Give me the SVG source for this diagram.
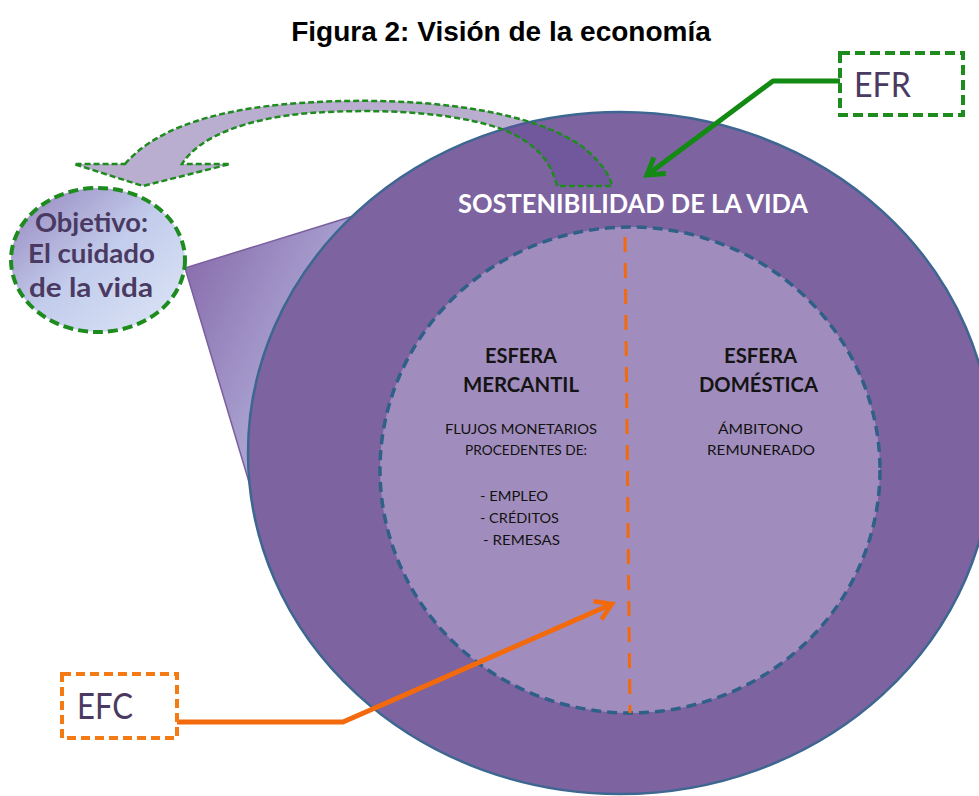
<svg xmlns="http://www.w3.org/2000/svg" width="979" height="796" viewBox="0 0 979 796">
<defs>
<style>
.title{font-family:"Liberation Sans",Arial,sans-serif;font-weight:bold;font-size:28px;fill:#000}
.lbl{font-family:Lato,"Open Sans",sans-serif;fill:#4a3a62}
.head{font-family:Lato,"Open Sans",sans-serif;font-weight:bold;font-size:20px;fill:#141414}
.small{font-family:Lato,"Open Sans",sans-serif;font-size:13px;fill:#111}
.obj{font-family:Lato,"Open Sans",sans-serif;font-weight:bold;font-size:27px;fill:#4a3a62}
.gdash{fill:none;stroke:#1e8b1e;stroke-width:4;stroke-dasharray:10 5}
.odash{fill:#fff;stroke:#f47a14;stroke-width:4;stroke-dasharray:9 5}
</style>
<linearGradient id="beamGrad" gradientUnits="userSpaceOnUse" x1="190" y1="260" x2="330" y2="330">
<stop offset="0" stop-color="#8a6fae"/>
<stop offset="1" stop-color="#aeaad6"/>
</linearGradient>
<linearGradient id="objGrad" x1="0" y1="0" x2="1" y2="1">
<stop offset="0" stop-color="#9483bd"/>
<stop offset="0.5" stop-color="#c3cdec"/>
<stop offset="1" stop-color="#dde6f6"/>
</linearGradient>
<marker id="arrG" markerUnits="userSpaceOnUse" markerWidth="30" markerHeight="30" refX="0" refY="0" viewBox="-20 -15 25 30" orient="auto">
<path d="M-16,-10 L0,0 L-16,10" fill="none" stroke="#138a13" stroke-width="5" stroke-linejoin="miter"/>
</marker>
<marker id="arrO" markerUnits="userSpaceOnUse" markerWidth="30" markerHeight="30" refX="0" refY="0" viewBox="-20 -15 25 30" orient="auto">
<path d="M-16,-10 L0,0 L-16,10" fill="none" stroke="#f26a0c" stroke-width="4.5" stroke-linejoin="miter"/>
</marker>
</defs>
<rect width="979" height="796" fill="#fff"/>
<text class="title" x="501" y="41" text-anchor="middle">Figura 2: Visión de la economía</text>

<g id="beam">
<polygon points="185,268 360,214 420,320 252,492" fill="url(#beamGrad)" stroke="#7b5f9e" stroke-width="1.5"/>
</g>

<g id="sostenibilidad">
<ellipse cx="620" cy="453" rx="372" ry="341" fill="#7d63a0" stroke="#3d6791" stroke-width="2.5"/>
<text x="458" y="213" font-family="Lato,'Open Sans',sans-serif" font-weight="bold" font-size="27" fill="#fff" textLength="350" lengthAdjust="spacingAndGlyphs">SOSTENIBILIDAD DE LA VIDA</text>
</g>

<g id="esferas">
<ellipse cx="630" cy="470" rx="250" ry="243" fill="#a18dbd" stroke="#2f6088" stroke-width="3.5" stroke-dasharray="10 6"/>
<line x1="625" y1="237" x2="630" y2="713" stroke="#f26a0c" stroke-width="3" stroke-dasharray="15 11"/>
</g>

<g id="mercantil">
<text class="head" x="485" y="363" textLength="72" lengthAdjust="spacingAndGlyphs">ESFERA</text>
<text class="head" x="463" y="392" textLength="116" lengthAdjust="spacingAndGlyphs">MERCANTIL</text>
<text class="small" x="445" y="434" textLength="152" lengthAdjust="spacingAndGlyphs">FLUJOS MONETARIOS</text>
<text class="small" x="465" y="455" textLength="122" lengthAdjust="spacingAndGlyphs">PROCEDENTES DE:</text>
<text class="small" x="480" y="501" textLength="68" lengthAdjust="spacingAndGlyphs">- EMPLEO</text>
<text class="small" x="480" y="523" textLength="79" lengthAdjust="spacingAndGlyphs">- CRÉDITOS</text>
<text class="small" x="483" y="545" textLength="77" lengthAdjust="spacingAndGlyphs">- REMESAS</text>
</g>

<g id="domestica">
<text class="head" x="724" y="363" textLength="73" lengthAdjust="spacingAndGlyphs">ESFERA</text>
<text class="head" x="699" y="392" textLength="119" lengthAdjust="spacingAndGlyphs">DOMÉSTICA</text>
<text class="small" x="718" y="434" textLength="85" lengthAdjust="spacingAndGlyphs">ÁMBITONO</text>
<text class="small" x="707" y="455" textLength="108" lengthAdjust="spacingAndGlyphs">REMUNERADO</text>
</g>

<g id="curved-arrow">
<path d="M125,164 C150,135 200,110 300,103 C400,96 520,105 580,145 C600,160 610,175 612,186 L557,186 C552,165 540,148 515,135 C470,112 380,108 310,113 C250,118 200,135 182,164 L230,164 L143,186 L74,164 Z" fill="rgb(100,75,150)" fill-opacity="0.45" stroke="#1e8b1e" stroke-width="2.5" stroke-dasharray="6 3"/>
</g>

<g id="objetivo">
<ellipse cx="98" cy="260" rx="87" ry="72" class="gdash" style="fill:url(#objGrad)"/>
<text class="obj" x="35" y="232" textLength="113" lengthAdjust="spacingAndGlyphs">Objetivo:</text>
<text class="obj" x="28" y="263" textLength="127" lengthAdjust="spacingAndGlyphs">El cuidado</text>
<text class="obj" x="29" y="297" textLength="124" lengthAdjust="spacingAndGlyphs">de la vida</text>
</g>

<g id="connectors">
<polyline points="840,81 773,81 647,175" fill="none" stroke="#138a13" stroke-width="5" stroke-linejoin="round" marker-end="url(#arrG)"/>
<polyline points="177,722 343,722 612,604" fill="none" stroke="#f26a0c" stroke-width="5" stroke-linejoin="round" marker-end="url(#arrO)"/>
</g>

<g id="efr">
<rect x="840" y="53" width="123" height="62" fill="#fff" class="gdash"/>
<text class="lbl" x="854" y="97" font-size="35" textLength="57" lengthAdjust="spacingAndGlyphs">EFR</text>
</g>

<g id="efc">
<rect x="62" y="674" width="115" height="64" class="odash"/>
<text class="lbl" x="77" y="719" font-size="36" textLength="56" lengthAdjust="spacingAndGlyphs">EFC</text>
</g>
</svg>
